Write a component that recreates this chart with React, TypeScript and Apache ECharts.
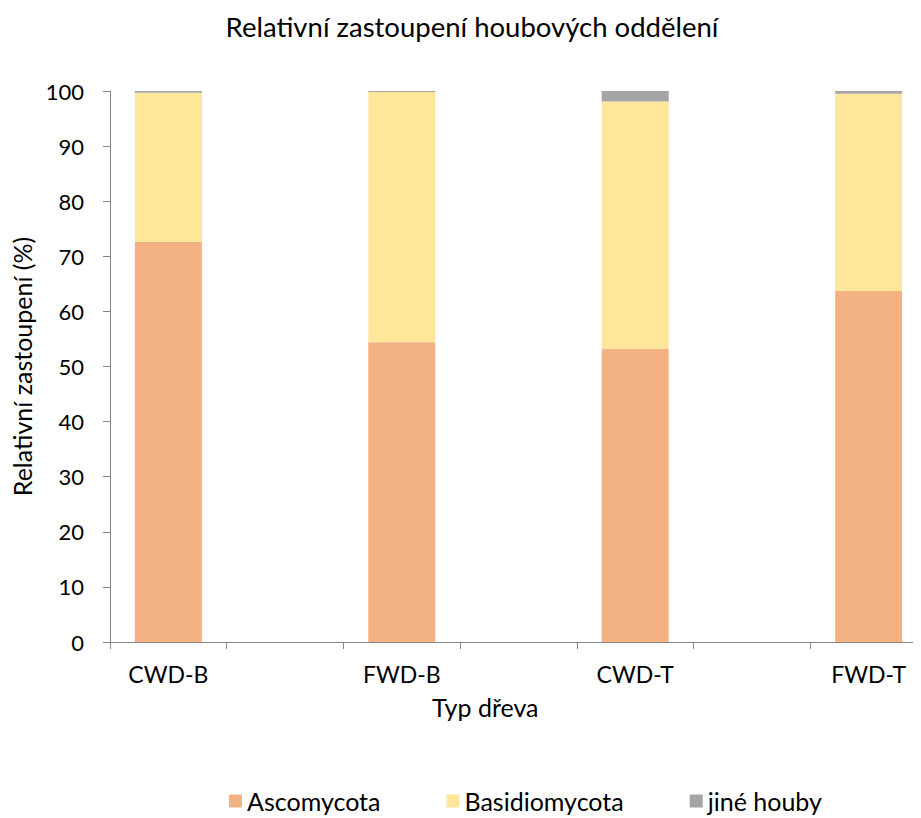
import React, { useEffect, useRef } from "react";
import * as echarts from "echarts";

const categories = ["CWD-B", "FWD-B", "CWD-T", "FWD-T"];
const ascomycota = [72.6, 54.4, 53.2, 63.7];
const basidiomycota = [27.1, 45.4, 44.9, 35.8];
const jineHouby = [0.3, 0.2, 1.9, 0.5];
const seriesNames = ["Ascomycota", "Basidiomycota", "jiné houby"];
const yTicks = [0, 10, 20, 30, 40, 50, 60, 70, 80, 90, 100];

const FONT = "Lato, 'Open Sans', sans-serif";

// Interleave blank slots between categories (the original axis has half-width slots)
const slots: string[] = categories.flatMap((c, i) => (i < categories.length - 1 ? [c, ""] : [c]));
const spread = (vals: number[]) =>
  vals.flatMap((v, i) => (i < vals.length - 1 ? [v, null] : [v]));

export default function App() {
  const ref = useRef<HTMLDivElement>(null);
  useEffect(() => {
    if (!ref.current) return;
    const chart = echarts.init(ref.current, undefined, { renderer: "svg" });
    const colors = ["#F4B183", "#FFE699", "#A5A5A5"];
    const data = [ascomycota, basidiomycota, jineHouby];
    chart.setOption({
      animation: false,
      textStyle: { fontFamily: FONT },
      title: {
        text: "Relativní zastoupení houbových oddělení",
        left: 459,
        top: -1,
        textAlign: "center",
        textStyle: { fontFamily: FONT, fontSize: 27.5, fontWeight: "normal", color: "#000" },
      },
      legend: {
        left: 216,
        top: 775,
        itemWidth: 13,
        itemHeight: 13,
        itemGap: 66,
        icon: "rect",
        textStyle: { fontFamily: FONT, fontSize: 25, lineHeight: 26, color: "#000" },
        data: seriesNames,
      },
      grid: { left: 102, right: -6, top: 83, bottom: 176, containLabel: false, outerBoundsMode: "none" },
      xAxis: {
        type: "category",
        data: slots,
        axisLine: { lineStyle: { color: "#868686", width: 1 } },
        axisTick: { show: true, interval: 0, length: 7, lineStyle: { color: "#868686" } },
        axisLabel: { interval: 0, fontFamily: FONT, fontSize: 23, color: "#000", margin: 20 },
      },
      yAxis: {
        type: "value",
        min: 0,
        max: 100,
        interval: 10,
        splitLine: { show: false },
        axisLine: { show: true, lineStyle: { color: "#868686" } },
        axisTick: { show: true, length: 7, lineStyle: { color: "#868686" } },
        axisLabel: { fontFamily: FONT, fontSize: 22, color: "#000", margin: 26,
          formatter: (v: number) => (yTicks.includes(v) ? String(v) : "") },
        name: "Relativní zastoupení (%)",
        nameLocation: "middle",
        nameGap: 70,
        nameTextStyle: { fontFamily: FONT, fontSize: 25, color: "#000" },
      },
      graphic: [
        {
          type: "text",
          left: 424,
          top: 686,
          style: { text: "Typ dřeva", font: `25px ${FONT}`, fill: "#000" },
        },
      ],
      series: data.map((d, i) => ({
        name: seriesNames[i],
        type: "bar",
        stack: "total",
        barWidth: 67,
        data: spread(d),
        itemStyle: { color: colors[i] },
      })),
    });
    return () => chart.dispose();
  }, []);
  return <div ref={ref} style={{ width: 913, height: 810 }} />;
}
